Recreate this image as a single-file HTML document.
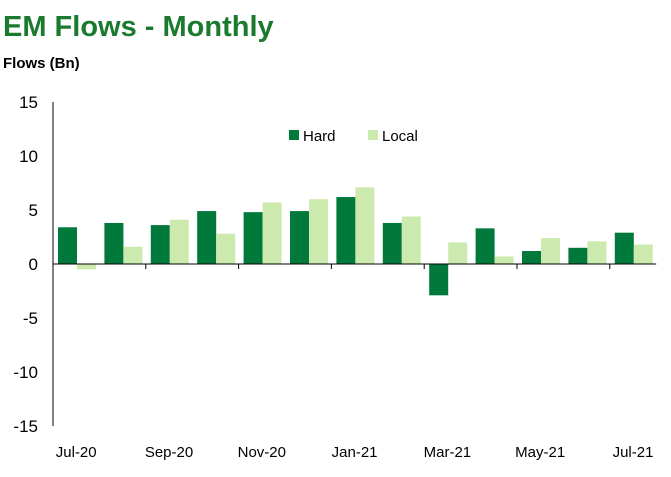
<!DOCTYPE html>
<html><head><meta charset="utf-8"><style>
body{margin:0;background:#fff;font-family:"Liberation Sans",sans-serif}
</style></head><body>
<svg width="671" height="472" xmlns="http://www.w3.org/2000/svg" font-family="Liberation Sans, sans-serif">
<text x="3" y="36" font-size="29" font-weight="bold" fill="#1a7a2e">EM Flows - Monthly</text>
<text x="3" y="68" font-size="15" font-weight="bold" fill="#000">Flows (Bn)</text>
<g id="plot"></g>
<g>
<rect x="289" y="130" width="10" height="10" fill="#00793a"/>
<text x="303" y="141" font-size="15">Hard</text>
<rect x="368" y="130" width="10" height="10" fill="#cdeaae"/>
<text x="382" y="141" font-size="15">Local</text>
</g>
</svg>
<script>
const categories=["Jul-20","Aug-20","Sep-20","Oct-20","Nov-20","Dec-20","Jan-21","Feb-21","Mar-21","Apr-21","May-21","Jun-21","Jul-21"];
const hard=[3.4,3.8,3.6,4.9,4.8,4.9,6.2,3.8,-2.9,3.3,1.2,1.5,2.9];
const local=[-0.5,1.6,4.1,2.8,5.7,6.0,7.1,4.4,2.0,0.7,2.4,2.1,1.8];
const yTicks=[15,10,5,0,-5,-10,-15];
const NS="http://www.w3.org/2000/svg";
const g=document.getElementById('plot');
const x0=53,catW=46.4,yMin=-15,yMax=15,yTop=102,yBot=426;
const y=v=>yTop+(yMax-v)/(yMax-yMin)*(yBot-yTop);
function mk(t,a){const e=document.createElementNS(NS,t);for(const k in a)e.setAttribute(k,a[k]);g.appendChild(e);return e;}
categories.forEach((c,i)=>{
 const cx=x0+catW*i;
 [[hard[i],'#00793a',5,'bar-hard-'],[local[i],'#cdeaae',24,'bar-local-']].forEach(([v,col,off,n])=>{
  const r=mk('rect',{x:cx+off,y:Math.min(y(v),y(0)),width:19,height:Math.abs(y(v)-y(0)),fill:col});
  
  
 });
 if(i%2===0){
  const t=mk('text',{x:cx+catW/2,y:457,'font-size':15,'text-anchor':'middle'});t.textContent=c;
  
  
 }
 if(i%2===0&&i>0){
  const tk=mk('line',{x1:cx,x2:cx,y1:y(0),y2:y(0)+5,stroke:'#000'});
  
  
 }
});
yTicks.forEach(v=>{
 const t=mk('text',{x:38,y:y(v)+6,'font-size':17,'text-anchor':'end'});t.textContent=v;
 
 
});
const ya=mk('line',{x1:x0,x2:x0,y1:yTop,y2:yBot,stroke:'#000'});


const xa=mk('line',{x1:x0,x2:x0+catW*13,y1:y(0),y2:y(0),stroke:'#000'});


</script>
</body></html>
